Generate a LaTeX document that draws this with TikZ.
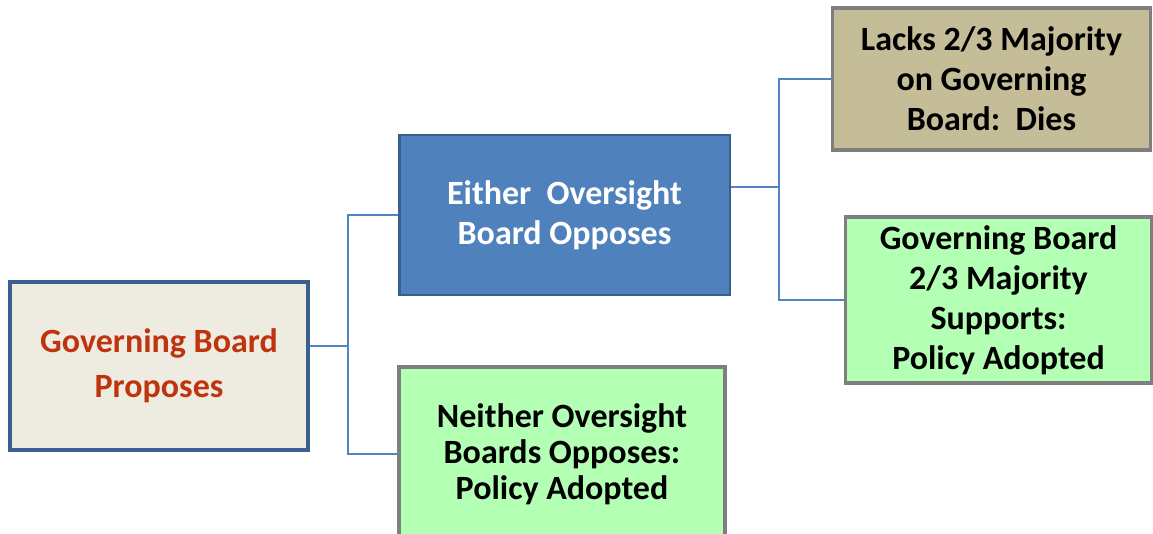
\documentclass[tikz,border=0pt]{standalone}
\usepackage{fontspec}
\setmainfont{Carlito}
\definecolor{propfill}{HTML}{EEECE1}
\definecolor{propedge}{HTML}{3B5F8E}
\definecolor{proptext}{HTML}{C0330F}
\definecolor{opfill}{HTML}{4F81BD}
\definecolor{opedge}{HTML}{3A5F8C}
\definecolor{adoptfill}{HTML}{B3FFB3}
\definecolor{diesfill}{HTML}{C4BD97}
\definecolor{greyedge}{HTML}{7F7F7F}
\definecolor{linkcol}{HTML}{4F84C6}
\begin{document}
\begin{tikzpicture}[x=0.75pt,y=-0.75pt,
    box/.style={rectangle, align=center, inner sep=0pt,
      font=\fontsize{25.5}{30}\selectfont\bfseries},
    greenbox/.style={box, fill=adoptfill, draw=greyedge, line width=2.4pt},
    link/.style={draw=linkcol, line width=1.8pt}]
      \clip (0,0) rectangle (1153,534);
      \node[box, fill=propfill, draw=propedge, line width=2.6pt, text=proptext,
        minimum width=223.5pt, minimum height=126pt,
        font=\fontsize{25.5}{34}\selectfont\bfseries]
        (gbp) at (159,366) {Governing Board\\Proposes};
      \node[box, fill=opfill, draw=opedge, line width=2pt, text=white,
        minimum width=248pt, minimum height=120pt]
        (eob) at (564.5,215) {Either\ \ Oversight\\Board Opposes};
      \node[greenbox, minimum width=244.5pt, minimum height=130.5pt,
        font=\fontsize{25.5}{27}\selectfont\bfseries]
        (nob) at (562,454) {Neither Oversight\\Boards Opposes:\\Policy Adopted};
      \node[box, fill=diesfill, draw=greyedge, line width=2.4pt,
        minimum width=239pt, minimum height=106.5pt]
        (lacks) at (991.5,79) {Lacks 2/3 Majority\\on Governing\\Board:\ \ Dies};
      \node[greenbox, minimum width=230pt, minimum height=124.5pt]
        (gbs) at (998.5,300) {Governing Board\\2/3 Majority\\Supports:\\Policy Adopted};
      \coordinate (j1) at (348,346);
      \coordinate (j2) at (779,187);
      \begin{scope}[link]
        \draw (gbp.east |- j1) -- (j1);
        \draw (eob.west) -| (j1) |- (nob.west);
        \draw (eob.east |- j2) -- (j2);
        \draw (lacks.west) -| (j2) |- (gbs.west);
      \end{scope}
    \end{tikzpicture}
\end{document}
